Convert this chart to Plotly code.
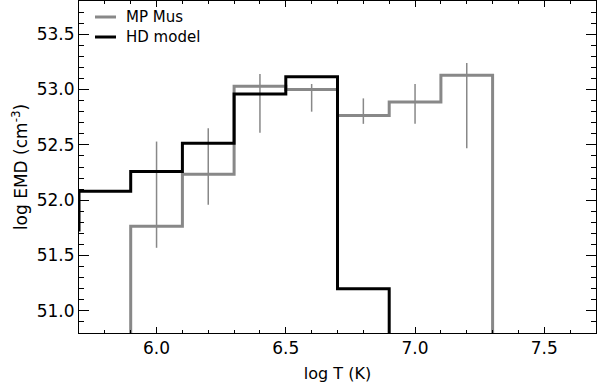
import plotly.graph_objects as go

# Temperature bin centres (log T)
logT_model = [5.6, 5.8, 6.0, 6.2, 6.4, 6.6, 6.8, 7.0]
emd_model = [51.73, 52.08, 52.26, 52.515, 52.96, 53.115, 51.20, 49.0]

logT_obs = [5.8, 6.0, 6.2, 6.4, 6.6, 6.8, 7.0, 7.2, 7.4]
emd_obs = [49.0, 51.765, 52.235, 53.03, 53.0, 52.765, 52.888, 53.13, 49.0]

# error bars for MP Mus (upper and lower limits)
err_T = [6.0, 6.2, 6.4, 6.6, 6.8, 7.0, 7.2]
err_center = [51.765, 52.235, 53.03, 53.0, 52.765, 52.888, 53.13]
err_hi = [52.53, 52.65, 53.14, 53.05, 52.92, 53.05, 53.24]
err_lo = [51.57, 51.96, 52.61, 52.80, 52.69, 52.69, 52.47]

legend_labels = ["MP Mus", "HD model"]

GRAY = "#888888"
FONT = "DejaVu Sans"

fig = go.Figure()
fig.add_trace(go.Scatter(
    x=err_T, y=err_center, mode="lines",
    line=dict(width=0, color=GRAY),
    error_y=dict(type="data", symmetric=False,
                 array=[h - c for h, c in zip(err_hi, err_center)],
                 arrayminus=[c - l for c, l in zip(err_center, err_lo)],
                 color=GRAY, thickness=1.5, width=0),
    showlegend=False, hoverinfo="skip"))
fig.add_trace(go.Scatter(x=logT_obs, y=emd_obs, mode="lines", line_shape="hvh",
                         line=dict(color=GRAY, width=3), name=legend_labels[0], showlegend=False))
fig.add_trace(go.Scatter(x=logT_model, y=emd_model, mode="lines", line_shape="hvh",
                         line=dict(color="black", width=3), name=legend_labels[1], showlegend=False))

# manual legend
for i, (lab, col) in enumerate(zip(legend_labels, [GRAY, "black"])):
    ypix = 17 + 20 * i
    yfrac = 1 - (ypix - 1) / 332
    fig.add_shape(type="line", xref="paper", yref="paper",
                  x0=(95 - 79) / 517, x1=(116 - 79) / 517, y0=yfrac, y1=yfrac,
                  line=dict(color=col, width=3))
    fig.add_annotation(text=lab, xref="paper", yref="paper",
                       x=(125 - 79) / 517, y=yfrac, xanchor="left", yanchor="middle",
                       showarrow=False, borderpad=0,
                       font=dict(family=FONT, size=15, color="black"))

axis_common = dict(showgrid=False, zeroline=False, showline=True, linecolor="black",
                   linewidth=1, mirror="allticks", ticks="inside", tickcolor="black",
                   automargin=False,
                   tickfont=dict(family=FONT, size=17, color="black"))

fig.update_xaxes(range=[5.7, 7.7], tick0=5.0, dtick=0.5, ticklen=6, tickformat=".1f",
                 minor=dict(dtick=0.1, tick0=5.0, ticks="inside", ticklen=3, tickcolor="black"),
                 title=dict(text="log T (K)", font=dict(family=FONT, size=16, color="black"), standoff=10),
                 **axis_common)
fig.update_yaxes(range=[50.8, 53.8], tick0=50.0, dtick=0.5, ticklen=10, tickformat=".1f",
                 minor=dict(dtick=0.1, tick0=50.0, ticks="inside", ticklen=5, tickcolor="black"),
                 title=dict(text="log EMD (cm<sup>-3</sup>)", font=dict(family=FONT, size=17, color="black"), standoff=4),
                 **axis_common)

fig.update_layout(width=597, height=387, margin=dict(l=79, r=1, t=1, b=54),
                  plot_bgcolor="white", paper_bgcolor="white", showlegend=False)
fig.write_html("out.html", config={"displayModeBar": False},
               post_script="document.body.style.margin='0px';")
